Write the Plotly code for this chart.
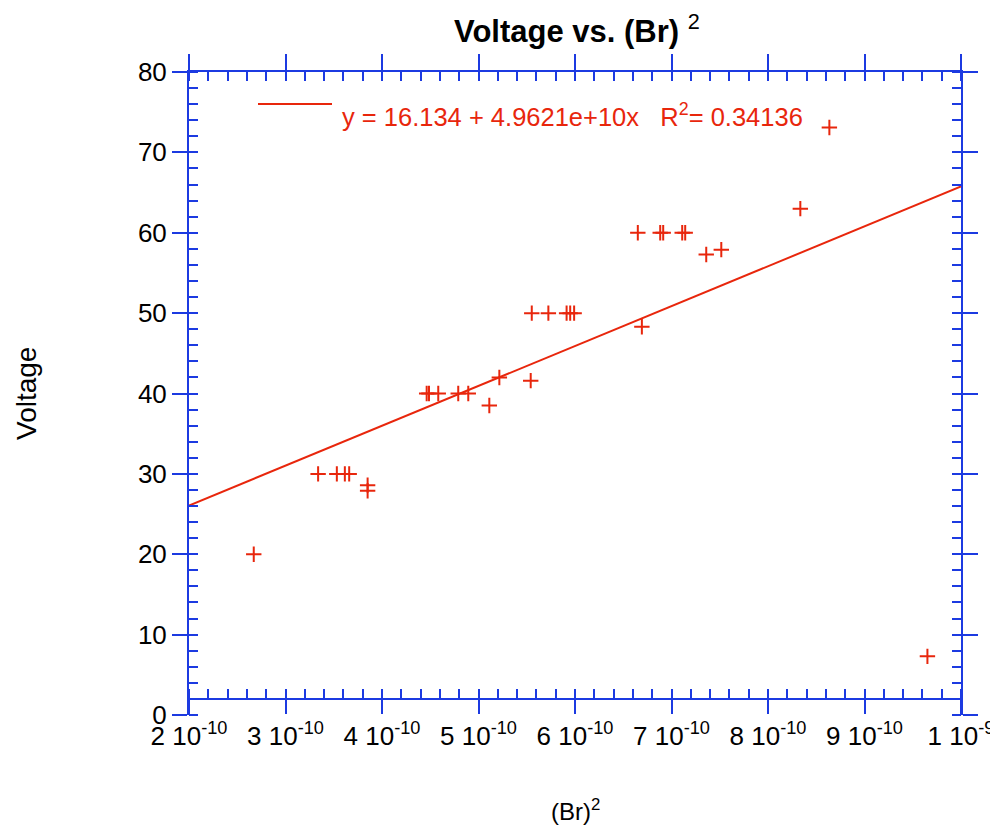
import plotly.graph_objects as go

# ---- data ----
br2 = [2.671e-10,
       3.338e-10, 3.532e-10, 3.615e-10, 3.660e-10,
       3.851e-10, 3.851e-10,
       4.463e-10, 4.487e-10, 4.583e-10, 4.790e-10, 4.894e-10,
       5.112e-10, 5.216e-10, 5.541e-10,
       5.552e-10, 5.724e-10, 5.913e-10, 5.950e-10, 5.991e-10,
       6.693e-10,
       6.651e-10, 6.883e-10, 6.914e-10, 7.111e-10, 7.142e-10,
       7.360e-10, 7.516e-10,
       8.335e-10, 8.636e-10, 9.652e-10]
voltage = [20,
           30, 30, 30, 30,
           28.6, 27.9,
           40, 40, 40, 40, 40,
           38.5, 42.0, 41.6,
           50, 50, 50, 50, 50,
           48.3,
           60, 60, 60, 60, 60,
           57.3, 57.9,
           63.0, 73.1, 7.3]
fit_intercept = 16.134
fit_slope = 4.9621e10
fit_r2 = 0.34136
x_ticks = [2e-10, 3e-10, 4e-10, 5e-10, 6e-10, 7e-10, 8e-10, 9e-10, 1e-9]
x_tick_labels = ["2 10<sup>-10</sup>", "3 10<sup>-10</sup>", "4 10<sup>-10</sup>",
                 "5 10<sup>-10</sup>", "6 10<sup>-10</sup>", "7 10<sup>-10</sup>",
                 "8 10<sup>-10</sup>", "9 10<sup>-10</sup>", "1 10<sup>-9</sup>"]
y_ticks = [0, 10, 20, 30, 40, 50, 60, 70, 80]

RED = "rgb(232,38,12)"
BLUE = "rgb(28,58,225)"
FONT = "Liberation Sans, Arial, sans-serif"

fit_x = [x_ticks[0], x_ticks[-1]]
fit_y = [fit_intercept + fit_slope * v for v in fit_x]

fig = go.Figure()
fig.add_trace(go.Scatter(x=fit_x, y=fit_y, mode="lines",
                         line=dict(color=RED, width=2), showlegend=False,
                         hoverinfo="skip"))
fig.add_trace(go.Scatter(x=br2, y=voltage, mode="markers",
                         marker=dict(symbol="cross-thin", size=11,
                                     line=dict(color=RED, width=2)),
                         showlegend=False))

# page body has an 8px margin: figure is placed at (8, 8) in the window
OFF = 8
W, H = 998 - OFF, 827 - OFF
PX0, PX1, PY0, PY1 = 189, 961, 72, 715   # plot area in window pixels
L, R, T, B = PX0 - OFF, (W + OFF) - PX1, PY0 - OFF, (H + OFF) - PY1
pw, ph = PX1 - PX0, PY1 - PY0


def px(xw):
    return (xw - PX0) / pw


def py(yw):
    return (PY1 - yw) / ph


axis_common = dict(showline=True, linecolor=BLUE, linewidth=2, automargin=False,
                   showgrid=False, zeroline=False, tickcolor=BLUE, tickwidth=2)

fig.update_layout(
    width=W, height=H,
    margin=dict(l=L, r=R, t=T, b=B, pad=0, autoexpand=False),
    plot_bgcolor="white", paper_bgcolor="white",
    font=dict(family=FONT, size=26, color="black"),
    xaxis=dict(range=[x_ticks[0], x_ticks[-1]], anchor="free",
               position=py(699),
               tickmode="array", tickvals=x_ticks, ticktext=x_tick_labels,
               ticks="outside", ticklen=14,
               minor=dict(ticks="inside", dtick=2e-11, tick0=0, ticklen=9,
                          tickcolor=BLUE, tickwidth=2),
               tickfont=dict(size=26), **axis_common),
    xaxis2=dict(range=[x_ticks[0], x_ticks[-1]], overlaying="x", side="top",
                anchor="y", matches="x", tickmode="array", tickvals=x_ticks,
                showticklabels=False, ticks="outside", ticklen=16,
                minor=dict(ticks="inside", dtick=2e-11, tick0=0, ticklen=9,
                           tickcolor=BLUE, tickwidth=2),
                **axis_common),
    yaxis=dict(range=[0, 80], tickmode="array", tickvals=y_ticks,
               ticks="outside", ticklen=15,
               minor=dict(ticks="inside", dtick=2, tick0=0, ticklen=9,
                          tickcolor=BLUE, tickwidth=2),
               tickfont=dict(size=26), **axis_common),
    yaxis2=dict(range=[0, 80], overlaying="y", side="right", anchor="x",
                matches="y", tickmode="array", tickvals=y_ticks,
                showticklabels=False, ticks="outside", ticklen=15,
                minor=dict(ticks="inside", dtick=2, tick0=0, ticklen=9,
                           tickcolor=BLUE, tickwidth=2),
                **axis_common),
)

# invisible trace to activate the mirrored axes
fig.add_trace(go.Scatter(x=[x_ticks[0]], y=[0], xaxis="x2", yaxis="y2",
                         mode="markers", marker=dict(opacity=0),
                         showlegend=False, hoverinfo="skip"))

# title
fig.add_annotation(text="<b>Voltage vs. (Br)</b> <sup>2</sup>", xref="paper", yref="paper",
                   x=px(577), y=py(29), xanchor="center", yanchor="middle",
                   showarrow=False, font=dict(size=31, color="black"))
# axis titles
fig.add_annotation(text="(Br)<sup>2</sup>", xref="paper", yref="paper",
                   x=px(575), y=py(810),
                   xanchor="center", yanchor="middle", showarrow=False,
                   font=dict(size=24, color="black"))
fig.add_annotation(text="Voltage", xref="paper", yref="paper",
                   x=px(26), y=py(394),
                   xanchor="center", yanchor="middle", textangle=-90,
                   showarrow=False, font=dict(size=28, color="black"))
# fit legend
fig.add_shape(type="line", xref="paper", yref="paper",
              x0=px(258), x1=px(332), y0=py(104), y1=py(104),
              line=dict(color=RED, width=2))
legend_text = ("y = %.3f + %.4fe+10x\u00a0\u00a0\u00a0R<sup>2</sup>= %.5f"
               % (fit_intercept, fit_slope / 1e10, fit_r2))
fig.add_annotation(text=legend_text, xref="paper", yref="paper",
                   x=px(340), y=py(115),
                   xanchor="left", yanchor="middle", showarrow=False,
                   font=dict(size=25.5, color=RED))

fig.write_html("out.html")
